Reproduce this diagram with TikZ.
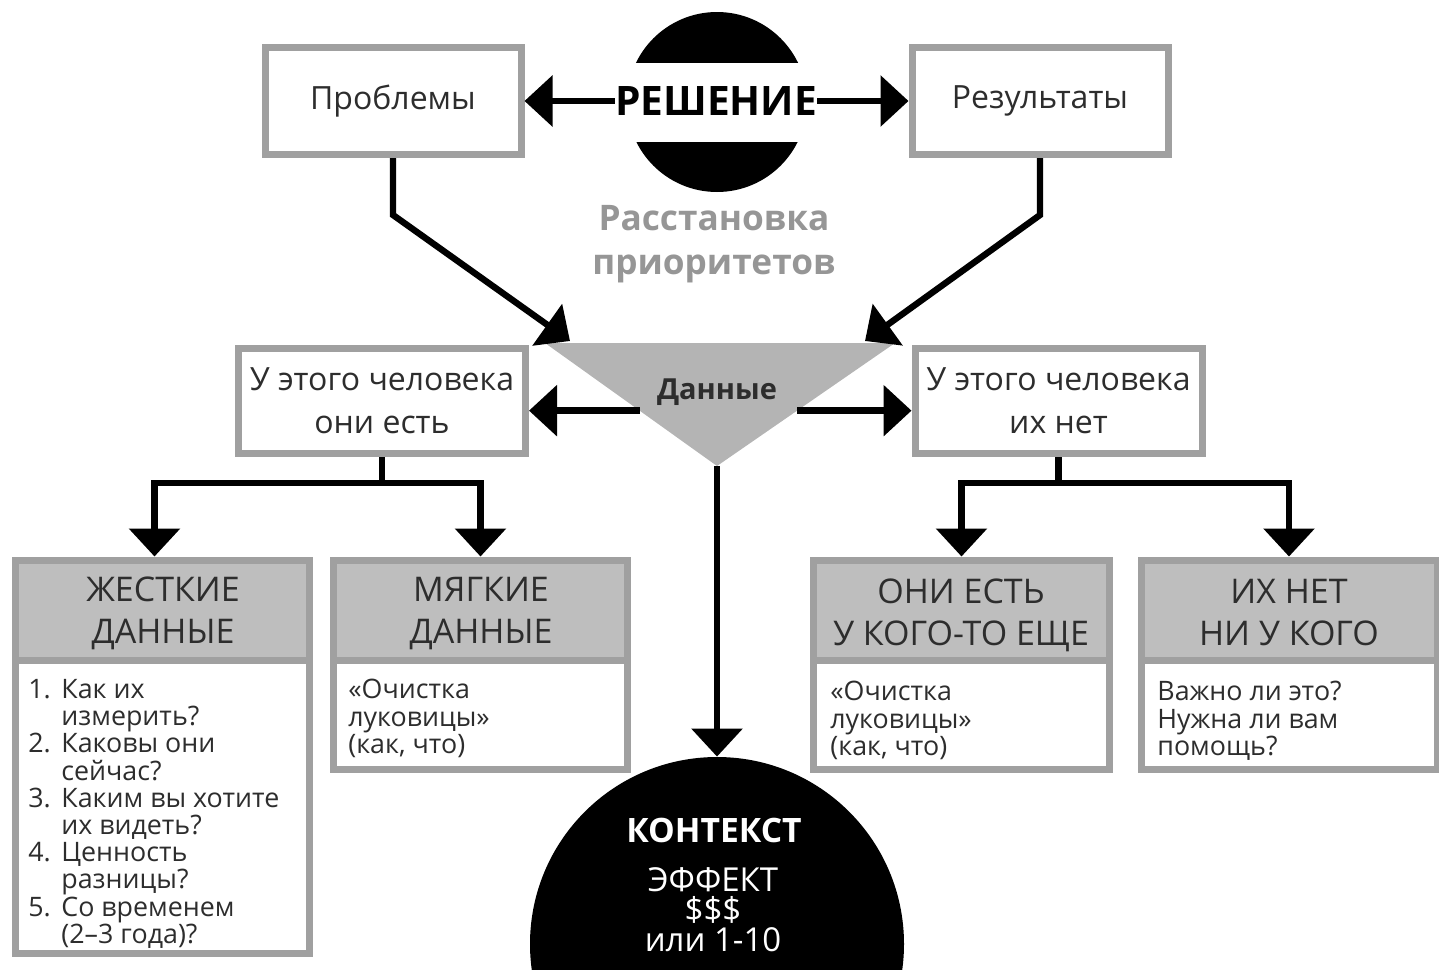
\documentclass[tikz,border=0pt]{standalone}
\usepackage{fontspec}
\setmainfont{Open Sans}
\usetikzlibrary{arrows.meta,calc}
\definecolor{framegray}{RGB}{160,160,160}
\definecolor{headgray}{RGB}{190,190,190}
\definecolor{wedgegray}{RGB}{180,180,180}
\definecolor{softgray}{RGB}{150,150,150}
\definecolor{ink}{RGB}{45,45,45}
\tikzset{
  frame/.style={draw=framegray, line width=3.5pt, fill=white, inner sep=0pt},
  headbox/.style={draw=framegray, line width=3.5pt, fill=headgray, inner sep=0pt,
    minimum height=50pt},
  headtext/.style={text=ink, anchor=base, inner sep=0pt, font=\fontsize{17}{21}\selectfont},
  plain/.style={text=ink, font=\fontsize{16}{21.5}\selectfont, align=center},
  link/.style={line width=3.2pt, black},
  arrowlink/.style={link, -{Triangle[length=14pt,width=25pt]}},
  bodytext/.style={text=ink, font=\fontsize{13.4}{13.6}\selectfont, align=left,
    anchor=north west, inner sep=0pt},
  disctext/.style={text=white, inner sep=0pt, font=\fontsize{16.5}{18}\selectfont},
}
\begin{document}
\begin{tikzpicture}[x=0.5pt,y=-0.5pt]
\useasboundingbox (0,0) rectangle (1439,969);

% black disc cut by a white band carrying the title
\fill[black] (717,102) circle[radius=45pt];
\fill[white] (600,63) rectangle (840,142);
\node[font=\bfseries\fontsize{20.3}{24}\selectfont, inner sep=0pt] (sol) at (716,101) {РЕШЕНИЕ};

% top boxes
\node[frame, plain, minimum width=128pt, minimum height=53.5pt] (prob) at (393,101) {Проблемы};
\node[frame, plain, minimum width=128pt, minimum height=53.5pt] (res) at (1040,101) {Результаты};
\draw[arrowlink] (sol.west) -- (prob.east);
\draw[arrowlink] (sol.east) -- (res.west);

\node[font=\bfseries\fontsize{17.6}{22}\selectfont, text=softgray, align=center] (prio) at (714,244)
  {Расстановка\\приоритетов};

% data wedge
\coordinate (wA) at (545,343);
\coordinate (wB) at (895,343);
\coordinate (wC) at (717,466);
\fill[wedgegray] (wA) -- (wB) -- (wC) -- cycle;
\node[font=\bfseries\fontsize{14.5}{17}\selectfont, text=ink] (data) at (717,392) {Данные};

% diagonal feeds into the wedge
\coordinate (bendY) at (0,215);
\coordinate (tipL) at (570,341);
\coordinate (tipR) at (865,341);
\draw[arrowlink] (prob.south) -- (prob.south |- bendY) -- (tipL);
\draw[arrowlink] (res.south) -- (res.south |- bendY) -- (tipR);

% side boxes
\node[frame, plain, minimum width=143.5pt, minimum height=52.5pt] (have) at (382,401)
  {У этого человека\\они есть};
\node[frame, plain, minimum width=143.5pt, minimum height=52.5pt] (lack) at (1058.5,401)
  {У этого человека\\их нет};
\coordinate (wL) at ($(wA)!0.55!(wC)$);
\coordinate (wR) at ($(wB)!0.55!(wC)$);
\draw[arrowlink] (wL) -- (wL -| have.east);
\draw[arrowlink] (wR) -- (wR -| lack.west);

% context disc at the bottom
\begin{scope}
  \clip (0,0) rectangle (1439,969);
  \node[circle, fill=black, minimum size=187pt, inner sep=0pt] (ctx) at (717,944) {};
\end{scope}
\draw[arrowlink] (wC) -- (ctx.north);
\node[disctext, font=\bfseries\fontsize{16.8}{19}\selectfont] (ctxhead) at (714,830) {КОНТЕКСТ};
\node[disctext] (ctxeff) at (713,880) {ЭФФЕКТ};
\node[disctext] (ctxusd) at (713,910) {\$\$\$};
\node[disctext] (ctxscale) at (713,940) {или 1-10};

% bottom boxes: bodies first, headers on top
\node[frame, minimum width=147pt, minimum height=146.5pt] (hardb) at (162.5,806.5) {};
\node[frame, minimum width=147pt, minimum height=54.5pt] (softb) at (480.5,714.5) {};
\node[frame, minimum width=148pt, minimum height=54.5pt] (elseb) at (961.5,714.5) {};
\node[frame, minimum width=148pt, minimum height=54.5pt] (noneb) at (1289,714.5) {};

\node[headbox, minimum width=147pt] (hard) at (162.5,610) {};
\node[headbox, minimum width=147pt] (soft) at (480.5,610) {};
\node[headbox, minimum width=148pt] (else) at (961.5,610) {};
\node[headbox, minimum width=148pt] (none) at (1289,610) {};
\node[headtext] (hardt1) at (163,601) {ЖЕСТКИЕ};
\node[headtext] (hardt2) at (163,643) {ДАННЫЕ};
\node[headtext] (softt1) at (481,601) {МЯГКИЕ};
\node[headtext] (softt2) at (481,643) {ДАННЫЕ};
\node[headtext] (elset1) at (961,603) {ОНИ ЕСТЬ};
\node[headtext] (elset2) at (961,645) {У КОГО-ТО ЕЩЕ};
\node[headtext] (nonet1) at (1289,603) {ИХ НЕТ};
\node[headtext] (nonet2) at (1289,645) {НИ У КОГО};

\node[bodytext] (hardtext) at (28,679)
  {\makebox[16.5pt][l]{1.}Как их\\\hspace*{16.5pt}измерить?\\
   \makebox[16.5pt][l]{2.}Каковы они\\\hspace*{16.5pt}сейчас?\\
   \makebox[16.5pt][l]{3.}Каким вы хотите\\\hspace*{16.5pt}их видеть?\\
   \makebox[16.5pt][l]{4.}Ценность\\\hspace*{16.5pt}разницы?\\
   \makebox[16.5pt][l]{5.}Со временем\\\hspace*{16.5pt}(2–3 года)?};
\node[bodytext] (softtext) at (348,679) {«Очистка\\луковицы»\\(как, что)};
\node[bodytext] (elsetext) at (830,681) {«Очистка\\луковицы»\\(как, что)};
\node[bodytext] (nonetext) at (1157,681) {Важно ли это?\\Нужна ли вам\\помощь?};

% branching connectors
\coordinate (barY) at (0,483);
\draw[link] (have.south) -- (have.south |- barY);
\draw[arrowlink] (have.south |- barY) -| ([xshift=-4pt]hard.north);
\draw[arrowlink] (have.south |- barY) -| (soft.north);
\draw[link] (lack.south) -- (lack.south |- barY);
\draw[arrowlink] (lack.south |- barY) -| (else.north);
\draw[arrowlink] (lack.south |- barY) -| (none.north);
\end{tikzpicture}
\end{document}
